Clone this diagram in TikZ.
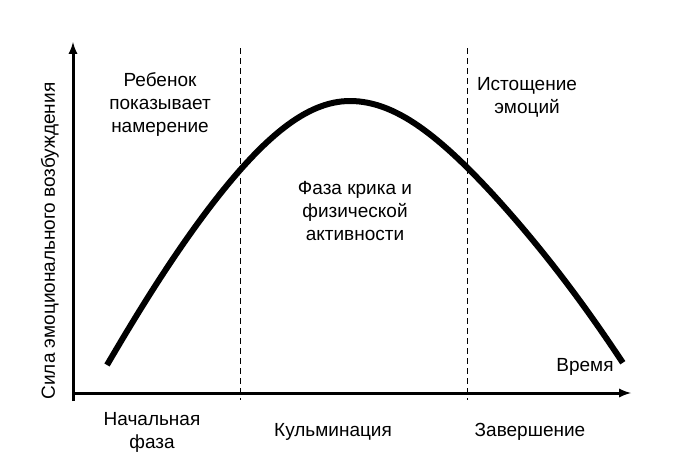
\documentclass[tikz,border=0pt]{standalone}
\usepackage{fontspec}
\setmainfont{Liberation Sans}
\usetikzlibrary{arrows}

\begin{document}
\begin{tikzpicture}[x=1pt, y=-1pt, font=\fontsize{19}{23}\selectfont]

\useasboundingbox (0,0) rectangle (699,463);

% Draw x and y axis lines
\coordinate (O) at (73,393);
\coordinate (ytop) at (73,42);
\coordinate (xend) at (631,393);
\draw [line width=3pt, ->, >=latex] (73,401) -- (ytop);
\draw [line width=3pt, ->, >=latex] (O) -- (xend);

% Phase borders
\draw [thin, dash pattern=on 6pt off 4pt] (240,48) -- (240,400);
\draw [thin, dash pattern=on 6pt off 4pt] (467,48) -- (467,400);

% Emotion curve
\draw [line width=6pt, variable=\t, samples=60]
  plot[domain=0:1] ({107+243*\t}, {365-264*(sin(90*\t)-0.02*sin(180*\t)^2)})
  -- plot[domain=0:1] ({350+273*\t}, {363-262*(cos(90*\t)-0.037*sin(180*\t)^2)});

% Texts
\node[rotate=90, inner sep=0] (ylabel) at (50,241) {Сила эмоционального возбуждения};
\node[align=center, inner sep=0] (intent) at (160,105) {Ребенок\\показывает\\намерение};
\node[align=center, inner sep=0] (exhaust) at (527,97) {Истощение\\эмоций};
\node[align=center, inner sep=0] (cry) at (355,211) {Фаза крика и\\физической\\активности};
\node[inner sep=0] (time) at (585,367) {Время};
\node[align=center, inner sep=0] (start) at (152,432) {Начальная\\фаза};
\node[inner sep=0] (peak) at (333,432) {Кульминация};
\node[inner sep=0] (finish) at (530,432) {Завершение};

\end{tikzpicture}
\end{document}
